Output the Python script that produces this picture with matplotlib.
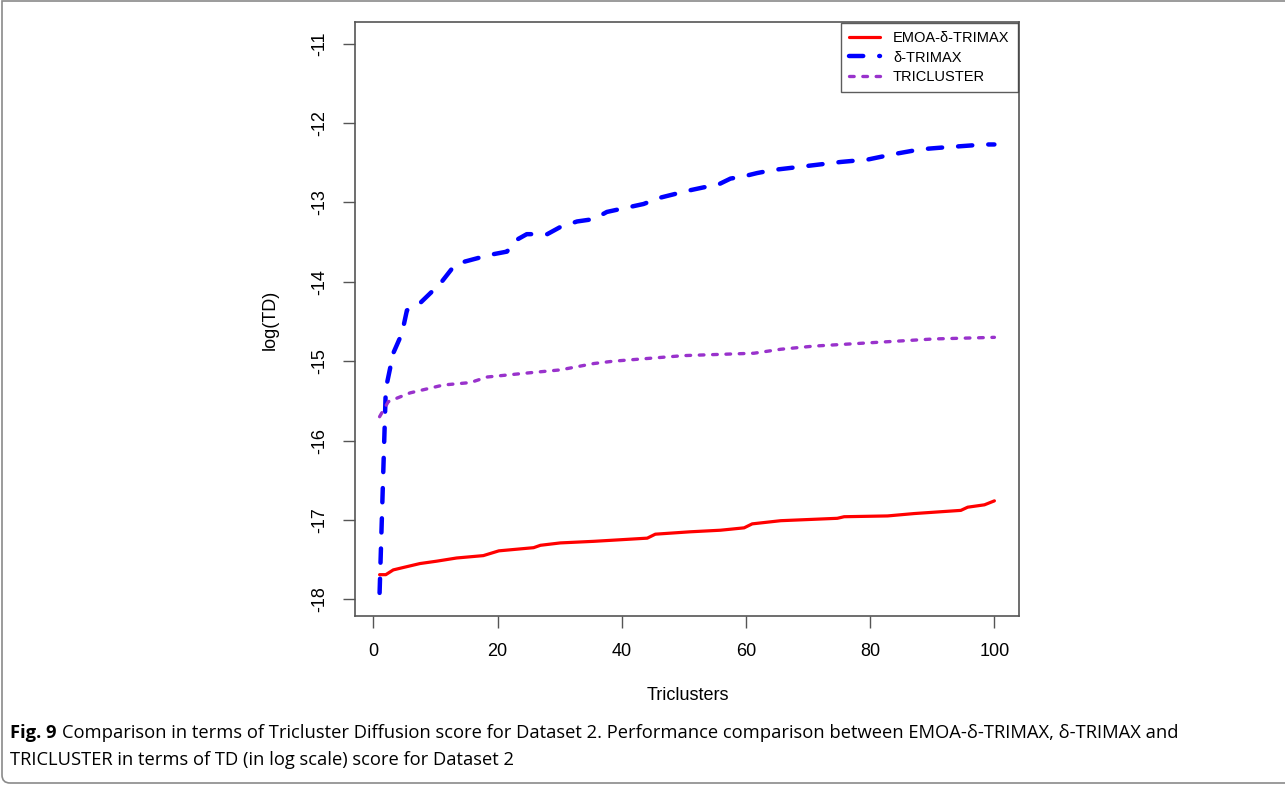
import matplotlib
matplotlib.use('Agg')
import matplotlib.pyplot as plt
from matplotlib.path import Path
from matplotlib.patches import PathPatch

# ---- data ----
emoa_x = [1, 2, 3.2, 4.8, 7.5, 10.2, 13.4, 17.7, 20.2, 25.8, 26.9, 30.1, 35.5, 39.8,
          44.1, 45.4, 51, 55.9, 59.7, 61, 65.6, 74.7, 75.8, 82.8, 87.1, 94.6, 95.7, 98.4, 100]
emoa_y = [-17.69, -17.69, -17.63, -17.60, -17.55, -17.52, -17.48, -17.45, -17.39, -17.35,
          -17.32, -17.29, -17.27, -17.25, -17.23, -17.18, -17.15, -17.13, -17.10, -17.05,
          -17.01, -16.98, -16.96, -16.95, -16.92, -16.88, -16.84, -16.81, -16.76]

trimax_x = [1, 2, 3.2, 4.6, 5.4, 7.5, 10.8, 12.9, 14.5, 18.8, 21.5, 23.1, 24.7, 28, 30.1,
            32.8, 35.5, 37.6, 43.5, 46.2, 50.8, 53.2, 55.4, 57.5, 59.7, 61.8, 64.5, 66.7,
            71, 75.3, 79.6, 83.9, 88.2, 91.4, 98.4, 100]
trimax_y = [-17.92, -15.35, -14.90, -14.65, -14.36, -14.27, -14.02, -13.81, -13.75, -13.66,
            -13.62, -13.47, -13.40, -13.40, -13.31, -13.24, -13.21, -13.12, -13.02, -12.94,
            -12.85, -12.81, -12.78, -12.70, -12.67, -12.63, -12.59, -12.57, -12.53, -12.49,
            -12.46, -12.39, -12.33, -12.31, -12.27, -12.27]

tric_x = [1, 2.4, 5.9, 11.3, 15.6, 18.3, 24.7, 30.1, 35.5, 38.7, 50, 61.3, 65.6, 71,
          79.6, 90.3, 100]
tric_y = [-15.70, -15.51, -15.40, -15.30, -15.27, -15.20, -15.15, -15.11, -15.03, -15.00,
          -14.93, -14.90, -14.85, -14.81, -14.77, -14.72, -14.70]

labels = ['EMOA-δ-TRIMAX', 'δ-TRIMAX', 'TRICLUSTER']
xticks = [0, 20, 40, 60, 80, 100]
yticks = [-18, -17, -16, -15, -14, -13, -12, -11]

W, H = 1285, 785
fig = plt.figure(figsize=(W / 100, H / 100), dpi=100)
plt.rcParams['font.family'] = ['Liberation Sans', 'DejaVu Sans']


def fx(px):
    return px / W


def fy(py):
    return 1 - py / H


# outer frame: top, left and bottom edges with a rounded lower-left corner
rc = 8
verts = [(fx(W + 20), fy(1)), (fx(2), fy(1)), (fx(2), fy(783 - rc)),
         (fx(2), fy(783)), (fx(2 + rc), fy(783)), (fx(W + 20), fy(783))]
codes = [Path.MOVETO, Path.LINETO, Path.LINETO, Path.CURVE3, Path.CURVE3, Path.LINETO]
fig.patches.append(PathPatch(Path(verts, codes), transform=fig.transFigure,
                             facecolor='none', edgecolor='#8a8a8a', linewidth=1.2,
                             clip_on=False))

ax = fig.add_axes([fx(355), fy(615.7), fx(1019) - fx(355), fy(22) - fy(615.7)])
ax.set_xlim(-2.96, 103.96)
ax.set_ylim(-18.207, -10.727)

ax.plot(emoa_x, emoa_y, color='#ff0000', lw=2.3, solid_capstyle='round',
        solid_joinstyle='round', label=labels[0])
ax.plot(trimax_x, trimax_y, color='#0000ff', lw=3.2, dashes=(3.2, 3.6),
        dash_capstyle='round', label=labels[1])
ax.plot(tric_x, tric_y, color='#9932cc', lw=2.4, dashes=(1.4, 2.6),
        dash_capstyle='round', label=labels[2])

ax.set_xticks(xticks)
ax.set_yticks(yticks)
ax.set_xticklabels([str(v) for v in xticks], fontsize=13)
ax.set_yticklabels([str(v) for v in yticks], fontsize=13, rotation=90, va='center')
ax.tick_params(axis='both', direction='out', length=8.5, width=1.0, color='#555555',
               pad=11)
for s in ax.spines.values():
    s.set_color('#555555')
    s.set_linewidth(1.2)

leg = ax.legend(loc='upper right', fontsize=10.5, frameon=True, fancybox=False,
                borderaxespad=0.1, handlelength=2.1, handletextpad=0.9,
                labelspacing=0.35, borderpad=0.55)
leg.get_frame().set_edgecolor('#333333')
leg.get_frame().set_linewidth(1.0)

fig.text(fx(270), fy(320), 'log(TD)', rotation=90, fontsize=13, ha='center', va='center')
fig.text(fx(688), fy(695), 'Triclusters', fontsize=13, ha='center', va='center')

# caption
cap_fs = 13.2
cap_font = ['Open Sans', 'DejaVu Sans']
t_bold = fig.text(fx(10), fy(733), 'Fig. 9', fontsize=cap_fs, fontweight='bold',
                  family=cap_font, ha='left', va='center')
fig.canvas.draw()
r = fig.canvas.get_renderer()
bb = t_bold.get_window_extent(r)
fig.text(bb.x1 / W + 5 / W, fy(733),
         'Comparison in terms of Tricluster Diffusion score for Dataset 2. Performance '
         'comparison between EMOA-δ-TRIMAX, δ-TRIMAX and',
         fontsize=cap_fs, family=cap_font, ha='left', va='center')
fig.text(fx(10), fy(760), 'TRICLUSTER in terms of TD (in log scale) score for Dataset 2',
         fontsize=cap_fs, family=cap_font, ha='left', va='center')

fig.savefig('out.png', dpi=100)
